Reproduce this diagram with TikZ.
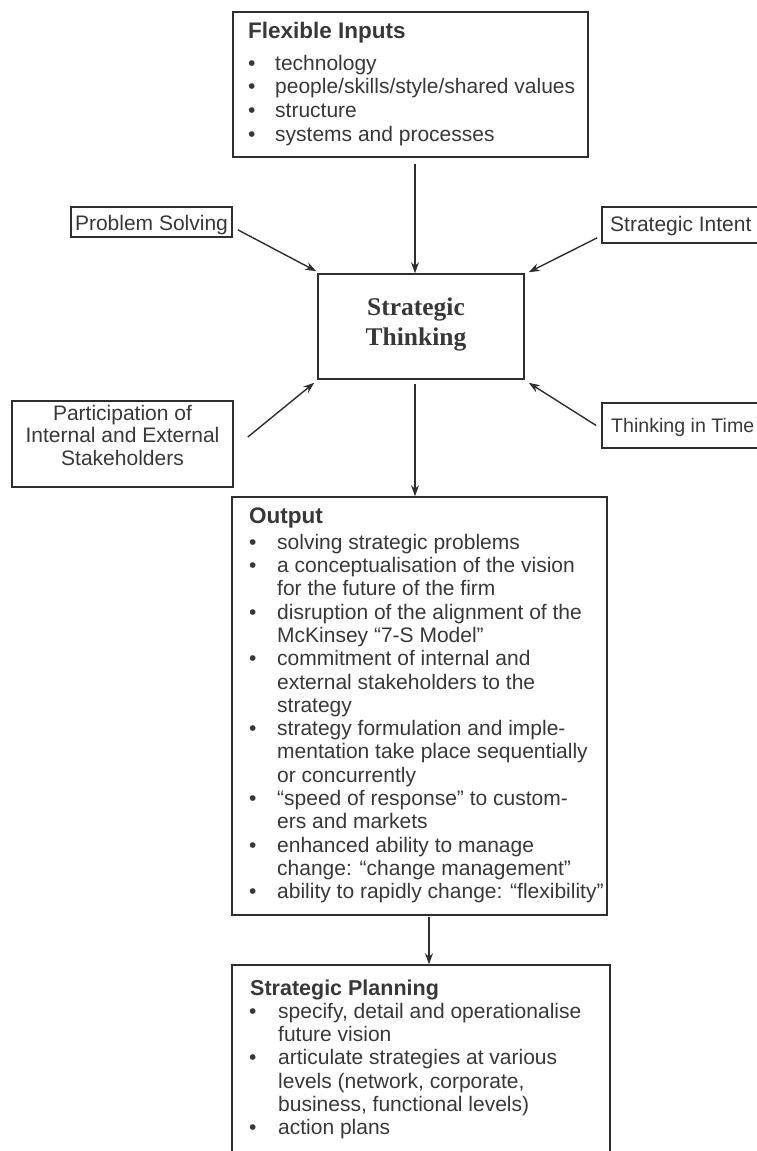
\documentclass[tikz,border=0pt]{standalone}
\usepackage{fontspec}
\setmainfont{Liberation Sans}
\newfontfamily\serifbf{Liberation Serif}
\usetikzlibrary{arrows.meta}
\definecolor{inkline}{gray}{0.18}
\definecolor{inktext}{gray}{0.22}
\begin{document}
\begin{tikzpicture}[x=1pt,y=-1pt,
  box/.style={draw=inkline, line width=1.6pt, rectangle, inner sep=0pt},
  body/.style={font=\fontsize{21}{23.3}\selectfont, text=inktext, inner sep=0pt},
  head/.style={font=\fontsize{22.5}{26}\selectfont\bfseries, text=inktext, inner sep=0pt, anchor=base west},
  arr/.style={draw=inkline, line width=1.4pt, -{Stealth[length=11pt,width=8pt]}}]
\useasboundingbox (0,0) rectangle (757,1151);
\fill[white] (0,0) rectangle (757,1151);
\clip (0,0) rectangle (757,1151);

% boxes
\node[box, minimum width=355pt, minimum height=145pt] (fi) at (410.5,84.5) {};
\node[box, minimum width=206pt, minimum height=105pt] (st) at (421,326.5) {};
\node[box, minimum width=161pt, minimum height=30pt] (ps) at (151.5,222) {};
\node[box, minimum width=198pt, minimum height=36pt] (si) at (701,225) {};
\node[box, minimum width=221pt, minimum height=86pt] (pa) at (122.5,444) {};
\node[box, minimum width=198pt, minimum height=45pt] (tt) at (701,425.5) {};
\node[box, minimum width=375pt, minimum height=418pt] (out) at (419.5,706) {};
\node[box, minimum width=378pt, minimum height=240pt] (sp) at (421,1085) {};

% texts
\node[head] (fit) at (248,38) {Flexible Inputs};
\node[body, font=\fontsize{21}{23.7}\selectfont, anchor=north west] (fil) at (248,53.4)
  {\begin{tabular}{@{}l@{}l@{}}
   \makebox[27pt][l]{\textbullet} & technology\\
   \makebox[27pt][l]{\textbullet} & people/skills/style/shared values\\
   \makebox[27pt][l]{\textbullet} & structure\\
   \makebox[27pt][l]{\textbullet} & systems and processes
   \end{tabular}};

\node[font=\serifbf\bfseries\fontsize{25.5}{30}\selectfont, text=inktext, align=center, anchor=north, inner sep=0pt] (stt) at (416,294) {\strut Strategic\\Thinking};

\node[body, anchor=base] (pst) at (151.5,230) {Problem Solving};
\node[body, anchor=base west] (sit) at (610,231) {Strategic Intent};
\node[body, font=\fontsize{19.6}{22}\selectfont, anchor=base west] (ttt) at (611,432) {Thinking in Time};
\node[body, font=\fontsize{21}{22.5}\selectfont, align=center, anchor=north] (pat) at (122.5,404.25)
  {\strut Participation of\\Internal and External\\Stakeholders};

\node[head] (outt) at (249,523) {Output};
\node[body, anchor=north west] (outl) at (249,532.7)
  {\begin{tabular}{@{}l@{}l@{}}
   \makebox[28pt][l]{\textbullet} & solving strategic problems\\
   \makebox[28pt][l]{\textbullet} & a conceptualisation of the vision\\
    & for the future of the firm\\
   \makebox[28pt][l]{\textbullet} & disruption of the alignment of the\\
    & McKinsey “7-S Model”\\
   \makebox[28pt][l]{\textbullet} & commitment of internal and\\
    & external stakeholders to the\\
    & strategy\\
   \makebox[28pt][l]{\textbullet} & strategy formulation and imple-\\
    & mentation take place sequentially\\
    & or concurrently\\
   \makebox[28pt][l]{\textbullet} & “speed of response” to custom-\\
    & ers and markets\\
   \makebox[28pt][l]{\textbullet} & enhanced ability to manage\\
    & change: “change management”\\
   \makebox[28pt][l]{\textbullet} & ability to rapidly change: “flexibility”
   \end{tabular}};

\node[head, font=\fontsize{21.5}{26}\selectfont\bfseries] (spt) at (250,995) {Strategic Planning};
\node[body, anchor=north west] (spl) at (249,1001.7)
  {\begin{tabular}{@{}l@{}l@{}}
   \makebox[29pt][l]{\textbullet} & specify, detail and operationalise\\
    & future vision\\
   \makebox[29pt][l]{\textbullet} & articulate strategies at various\\
    & levels (network, corporate,\\
    & business, functional levels)\\
   \makebox[29pt][l]{\textbullet} & action plans
   \end{tabular}};

% connectors
\draw[arr] ([shift={(4.5,6)}]fi.south) -- ([shift={(-6,0)}]st.north);
\draw[arr] ([shift={(5,-8)}]ps.south east) -- ([shift={(-1,-2)}]st.north west);
\draw[arr] ([shift={(-4,-6)}]si.south west) -- ([shift={(4,-1)}]st.north east);
\draw[arr] ([shift={(14,-7)}]pa.east) -- ([shift={(-3,3)}]st.south west);
\draw[arr] ([shift={(-5,0)}]tt.west) -- ([shift={(4,3)}]st.south east);
\draw[arr] ([shift={(-6,4)}]st.south) -- ([shift={(-4.5,0)}]out.north);
\draw[arr] ([shift={(9.5,1)}]out.south) -- ([shift={(8,0)}]sp.north);
\end{tikzpicture}
\end{document}
